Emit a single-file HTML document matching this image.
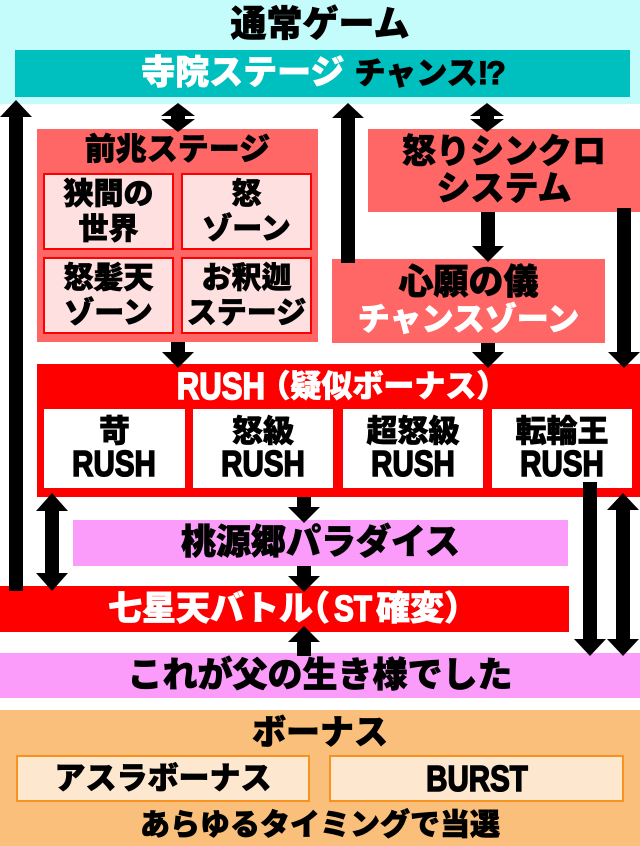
<!DOCTYPE html>
<html><head><meta charset="utf-8">
<style>
*{margin:0;padding:0;box-sizing:border-box}
html,body{width:640px;height:846px;overflow:hidden;background:#fff}
body{position:relative;font-family:"Liberation Sans","Noto Sans CJK JP",sans-serif;font-weight:900;color:#000;-webkit-text-stroke-width:0.7px}
.b{position:absolute;display:flex;flex-direction:column;align-items:center;justify-content:center;text-align:center;white-space:nowrap}
.sub{background:#ffe0e0;border:2px solid #ff0000;font-size:30px;line-height:35px}
.wb{background:#fff;font-size:31px;line-height:32px}
.lat{display:inline-block;transform:scaleX(.82);transform-origin:center;font-weight:700;-webkit-text-stroke-width:1.6px}
.h{font-feature-settings:"halt"}
.ob{background:#fde8cf;border:2px solid #f7931e;font-size:31px;line-height:40px}
svg{position:absolute;left:0;top:0}
</style></head><body>
<div class="b" style="left:0;top:0;width:640px;height:104px;background:#c4fcfc;justify-content:flex-start"><div style="font-size:36px;line-height:48px;margin-top:0px">通常ゲーム</div></div>
<div class="b" style="left:15px;top:50px;width:615px;height:47px;background:#00bfbf;font-size:34px;line-height:47px;flex-direction:row"><span style="color:#fff">寺院ステージ</span><span style="font-size:31px;margin-left:10px">チャンス</span><span style="font-size:32px;letter-spacing:-2px;font-weight:700;-webkit-text-stroke-width:1.2px">!?</span></div>

<div class="b" style="left:37px;top:129px;width:281px;height:213px;background:#ff6666;justify-content:flex-start"><div style="font-size:31px;line-height:42px">前兆ステージ</div></div>
<div class="b sub" style="left:43px;top:173px;width:131px;height:77px"><div>狭間の</div><div>世界</div></div>
<div class="b sub" style="left:181px;top:173px;width:131px;height:77px"><div>怒</div><div>ゾーン</div></div>
<div class="b sub" style="left:43px;top:257px;width:131px;height:77px"><div>怒髪天</div><div>ゾーン</div></div>
<div class="b sub" style="left:181px;top:257px;width:131px;height:77px"><div>お釈迦</div><div>ステージ</div></div>

<div class="b" style="left:368px;top:129px;width:272px;height:83px;background:#ff6666;font-size:34px;line-height:37px"><div>怒りシンクロ</div><div>システム</div></div>
<div class="b" style="left:332px;top:259px;width:273px;height:84px;background:#ff6666;line-height:37px"><div style="font-size:35px">心願の儀</div><div style="font-size:32px;color:#fff">チャンスゾーン</div></div>

<div class="b" style="left:37px;top:364px;width:603px;height:133px;background:#ff0000;justify-content:flex-start"><div style="font-size:31px;line-height:46px;color:#fff;flex-direction:row;display:flex;margin-left:-18px"><span class="lat" style="font-size:38px">RUSH</span><span class="h">（</span>疑似ボーナス<span class="h">）</span></div></div>
<div class="b wb" style="left:44px;top:409px;width:141px;height:79px"><div>苛</div><div><span class="lat" style="font-size:36px">RUSH</span></div></div>
<div class="b wb" style="left:193px;top:409px;width:140px;height:79px"><div>怒級</div><div><span class="lat" style="font-size:36px">RUSH</span></div></div>
<div class="b wb" style="left:343px;top:409px;width:140px;height:79px"><div>超怒級</div><div><span class="lat" style="font-size:36px">RUSH</span></div></div>
<div class="b wb" style="left:492px;top:409px;width:140px;height:79px"><div>転輪王</div><div><span class="lat" style="font-size:36px">RUSH</span></div></div>

<div class="b" style="left:73px;top:520px;width:495px;height:46px;background:#fb9cfb;font-size:35px;line-height:46px">桃源郷パラダイス</div>
<div class="b" style="left:0;top:586px;width:569px;height:46px;background:#ff0000;color:#fff;font-size:34px;line-height:46px;flex-direction:row"><span>七星天バトル</span><span class="h">（</span><span class="lat" style="font-size:36px">ST</span><span>確変</span><span class="h">）</span></div>
<div class="b" style="left:0;top:653px;width:640px;height:45px;background:#fb9cfb;font-size:35px;line-height:45px">これが父の生き様でした</div>

<div class="b" style="left:0;top:710px;width:640px;height:136px;background:#fac07b;justify-content:flex-start"><div style="font-size:34px;line-height:46px">ボーナス</div></div>
<div class="b ob" style="left:16px;top:755px;width:294px;height:47px">アスラボーナス</div>
<div class="b ob" style="left:329px;top:755px;width:295px;height:47px"><span class="lat" style="font-size:36px">BURST</span></div>
<div class="b" style="left:0;top:806px;width:640px;height:40px;font-size:30px;line-height:40px">あらゆるタイミングで当選</div>

<svg width="640" height="846" viewBox="0 0 640 846">
<g fill="#000">
<polygon points="16,100 32,117 23,117 23,591 9,591 9,117 0,117"/>
<polygon points="178,103 195,116 185,116 185,119 195,119 178,132 161,119 171,119 171,116 161,116"/>
<polygon points="348,103 364,118 355,118 355,263 341,263 341,118 332,118"/>
<polygon points="487,103 504,116 494,116 494,119 504,119 487,132 470,119 480,119 480,116 470,116"/>
<polygon points="171,342 185,342 185,352 194,352 178,368 162,352 171,352"/>
<polygon points="481,212 495,212 495,246 504,246 488,262 472,246 481,246"/>
<polygon points="481,343 495,343 495,352 504,352 488,368 472,352 481,352"/>
<polygon points="617,208 631,208 631,352 640,352 624,368 608,352 617,352"/>
<polygon points="52,493 68,511 59,511 59,573 68,573 52,591 36,573 45,573 45,511 36,511"/>
<polygon points="297,497 311,497 311,507 320,507 304,523 288,507 297,507"/>
<polygon points="297,566 311,566 311,576 320,576 304,592 288,576 297,576"/>
<polygon points="304,626 320,642 311,642 311,656 297,656 297,642 288,642"/>
<polygon points="583,482 597,482 597,639 606,639 590,656 574,639 583,639"/>
<polygon points="623,493 639,510 630,510 630,639 639,639 623,656 607,639 616,639 616,510 607,510"/>
</g>
</svg>
</body></html>
